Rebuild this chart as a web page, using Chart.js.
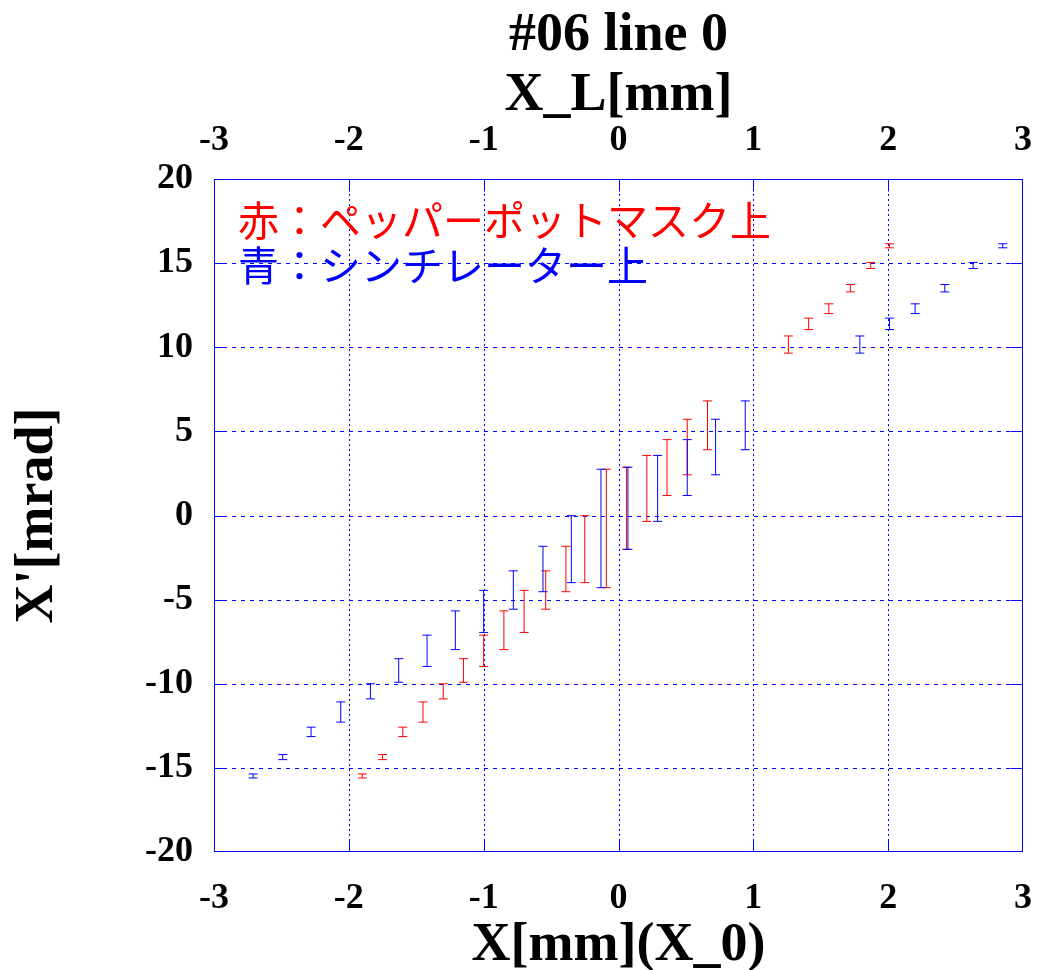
<!DOCTYPE html>
<html>
<head>
<meta charset="utf-8">
<script src="https://cdn.jsdelivr.net/npm/chart.js"></script>
<style>
  html, body { margin: 0; padding: 0; background: #fff; }
  #wrap { width: 1037px; height: 970px; position: relative; }
</style>
</head>
<body>
<div id="wrap"><canvas id="chart"></canvas></div>
<script>
// values
const xTicks = [-3, -2, -1, 0, 1, 2, 3];
const yTicks = [-20, -15, -10, -5, 0, 5, 10, 15, 20];

// red: on pepper-pot mask, blue: on scintillator (same angles, different x)
const xRed = [-1.90, -1.75, -1.60, -1.45, -1.30, -1.15, -1.00, -0.85, -0.70, -0.54, -0.39, -0.25,
              -0.09, 0.06, 0.21, 0.36, 0.51, 0.66, 1.26, 1.41, 1.56, 1.72, 1.87, 2.01];
const xBlue = [-2.71, -2.49, -2.28, -2.06, -1.84, -1.63, -1.42, -1.21, -1.00, -0.78, -0.56, -0.35,
               -0.13, 0.07, 0.29, 0.51, 0.72, 0.94, 1.79, 2.01, 2.20, 2.42, 2.63, 2.85];
const yVal = [-15.48, -14.36, -12.86, -11.68, -10.45, -9.21, -8.04, -6.82, -5.70, -4.43, -3.18, -2.00,
              -0.77, 0.43, 1.61, 2.85, 4.07, 5.36, 10.16, 11.39, 12.29, 13.51, 14.86, 16.03];
const yErr = [0.12, 0.15, 0.28, 0.60, 0.45, 0.70, 0.93, 1.15, 1.25, 1.14, 1.35, 1.99,
              3.52, 2.44, 1.96, 1.66, 1.65, 1.45, 0.51, 0.34, 0.29, 0.22, 0.18, 0.12];

const RED = "#ff0000";
const BLUE = "#0000ff";
const SERIF = '"Liberation Serif", "Times New Roman", serif';

const toPoints = xs => xs.map((x, i) => ({ x: x, y: yVal[i], err: yErr[i] }));

// dotted grid, frame and inward tick marks
const framePlugin = {
  id: "frame",
  beforeDatasetsDraw(chart) {
    const { ctx, chartArea: a, scales: { x, y } } = chart;
    ctx.save();
    ctx.strokeStyle = BLUE;
    ctx.lineWidth = 1;
    ctx.setLineDash([2, 3]);
    xTicks.slice(1, -1).forEach(v => {
      const px = Math.round(x.getPixelForValue(v)) + 0.5;
      ctx.beginPath(); ctx.moveTo(px, a.top); ctx.lineTo(px, a.bottom); ctx.stroke();
    });
    ctx.setLineDash([4, 5]);
    yTicks.slice(1, -1).forEach(v => {
      const py = Math.round(y.getPixelForValue(v)) + 0.5;
      ctx.beginPath(); ctx.moveTo(a.left, py); ctx.lineTo(a.right, py); ctx.stroke();
    });
    ctx.restore();
  },
  afterDraw(chart) {
    const { ctx, chartArea: a, scales: { x, y } } = chart;
    const L = Math.round(a.left) + 0.5, R = Math.round(a.right) - 0.5;
    const T = Math.round(a.top) + 0.5, B = Math.round(a.bottom) - 0.5;
    ctx.save();
    ctx.strokeStyle = BLUE;
    ctx.lineWidth = 1;
    ctx.strokeRect(L, T, R - L, B - T);
    const tl = 12;
    ctx.beginPath();
    xTicks.slice(1, -1).forEach(v => {
      const px = Math.round(x.getPixelForValue(v)) + 0.5;
      ctx.moveTo(px, B); ctx.lineTo(px, B - tl);
      ctx.moveTo(px, T); ctx.lineTo(px, T + tl);
    });
    yTicks.slice(1, -1).forEach(v => {
      const py = Math.round(y.getPixelForValue(v)) + 0.5;
      ctx.moveTo(L, py); ctx.lineTo(L + tl, py);
      ctx.moveTo(R, py); ctx.lineTo(R - tl, py);
    });
    ctx.stroke();
    ctx.restore();
  }
};

// vertical error bars with caps
const errorBarPlugin = {
  id: "errorbars",
  afterDatasetsDraw(chart) {
    const { ctx, scales: { x, y } } = chart;
    ctx.save();
    ctx.lineWidth = 1;
    chart.data.datasets.forEach(ds => {
      ctx.strokeStyle = ds.borderColor;
      ds.data.forEach(p => {
        const px = x.getPixelForValue(p.x);
        const y1 = y.getPixelForValue(p.y - p.err);
        const y2 = y.getPixelForValue(p.y + p.err);
        const cap = 4.5;
        ctx.beginPath();
        ctx.moveTo(px, y1); ctx.lineTo(px, y2);
        ctx.moveTo(px - cap, y1); ctx.lineTo(px + cap, y1);
        ctx.moveTo(px - cap, y2); ctx.lineTo(px + cap, y2);
        ctx.stroke();
      });
    });
    ctx.restore();
  }
};

// titles, tick labels and the legend text
const textPlugin = {
  id: "texts",
  afterDraw(chart) {
    const { ctx, chartArea: a, scales: { x, y } } = chart;
    const cx = (a.left + a.right) / 2;
    ctx.save();
    ctx.fillStyle = "#000";
    ctx.textAlign = "center";
    ctx.textBaseline = "alphabetic";
    ctx.font = "bold 54px " + SERIF;
    ctx.fillText("#06 line 0", cx, 50);
    ctx.fillText("X_L[mm]", cx, 110);
    ctx.fillText("X[mm](X_0)", cx, 960);

    ctx.font = "bold 36px " + SERIF;
    xTicks.forEach(v => {
      const px = x.getPixelForValue(v);
      ctx.fillText(String(v), px, 908);
      ctx.fillText(String(v), px, 150);
    });
    ctx.textAlign = "right";
    ctx.textBaseline = "middle";
    yTicks.forEach(v => {
      ctx.fillText(String(v), 193, y.getPixelForValue(v));
    });

    ctx.save();
    ctx.translate(38, (a.top + a.bottom) / 2);
    ctx.rotate(-Math.PI / 2);
    ctx.textAlign = "center";
    ctx.font = "bold 54px " + SERIF;
    ctx.fillText("X'[mrad]", 0, 0);
    ctx.restore();

    ctx.textAlign = "left";
    ctx.textBaseline = "middle";
    ctx.font = '41px "Noto Sans CJK JP", sans-serif';
    ctx.fillStyle = RED;
    ctx.fillText(chart.data.datasets[0].label, 238, 220);
    ctx.fillStyle = BLUE;
    ctx.fillText(chart.data.datasets[1].label, 238, 265);
    ctx.restore();
  }
};

new Chart(document.getElementById("chart"), {
  type: "scatter",
  data: {
    datasets: [
      { label: "赤：ペッパーポットマスク上", data: toPoints(xRed), borderColor: RED, backgroundColor: RED, pointRadius: 0 },
      { label: "青：シンチレーター上", data: toPoints(xBlue), borderColor: BLUE, backgroundColor: BLUE, pointRadius: 0 }
    ]
  },
  options: {
    responsive: true,
    maintainAspectRatio: false,
    animation: false,
    layout: { padding: { left: 214, right: 14, top: 179, bottom: 118 } },
    plugins: { legend: { display: false }, tooltip: { enabled: false } },
    scales: {
      x: { type: "linear", min: xTicks[0], max: xTicks[xTicks.length - 1], display: false },
      y: { type: "linear", min: yTicks[0], max: yTicks[yTicks.length - 1], display: false }
    }
  },
  plugins: [framePlugin, errorBarPlugin, textPlugin]
});
</script>
</body>
</html>
